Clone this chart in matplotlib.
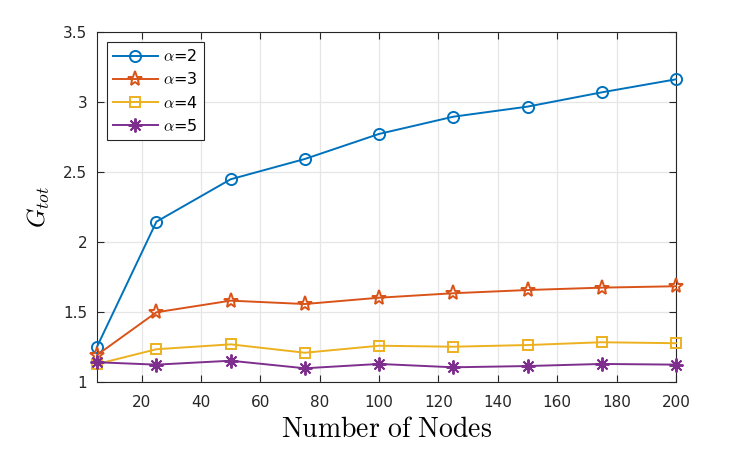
import numpy as np
import matplotlib.pyplot as plt

plt.rcParams['mathtext.fontset'] = 'cm'
plt.rcParams['font.family'] = ['DejaVu Sans']

nodes = [5, 25, 50, 75, 100, 125, 150, 175, 200]
g_a2 = [1.254, 2.147, 2.45, 2.595, 2.774, 2.897, 2.969, 3.071, 3.164]
g_a3 = [1.195, 1.50, 1.583, 1.559, 1.604, 1.636, 1.659, 1.676, 1.686]
g_a4 = [1.13, 1.236, 1.271, 1.211, 1.261, 1.254, 1.266, 1.286, 1.279]
g_a5 = [1.143, 1.126, 1.154, 1.10, 1.131, 1.107, 1.116, 1.131, 1.126]

fig = plt.figure(figsize=(7.47, 4.49), dpi=100)
ax = fig.add_axes([0.1299, 0.1486, 0.775, 0.7795])

lw = 1.4
ax.plot(nodes, g_a2, '-o', color='#0072BD', lw=lw, ms=8, mfc='none', mew=lw,
        label=r'$\alpha$=2', clip_on=False, zorder=3)
ax.plot(nodes, g_a3, '-*', color='#D95319', lw=lw, ms=11, mfc='none', mew=lw,
        label=r'$\alpha$=3', clip_on=False, zorder=3)
ax.plot(nodes, g_a4, '-s', color='#EDB120', lw=lw, ms=7.5, mfc='none', mew=lw,
        label=r'$\alpha$=4', clip_on=False, zorder=3)
ax.plot(nodes, g_a5, '-', color='#7E2F8E', lw=lw, marker=(8, 2, 0), ms=10, mew=lw,
        label=r'$\alpha$=5', clip_on=False, zorder=3)

ax.set_xlim(5, 200)
ax.set_ylim(1, 3.5)
ax.set_xticks(np.arange(20, 201, 20))
ax.set_yticks([1, 1.5, 2, 2.5, 3, 3.5])
ax.set_yticklabels(['1', '1.5', '2', '2.5', '3', '3.5'])
ax.tick_params(direction='in', length=5, labelsize=11, top=True, right=True,
               colors='#262626', labelcolor='#262626', width=0.8)
ax.tick_params(axis='x', pad=9)
ax.tick_params(axis='y', pad=7)
ax.grid(True, color='#e6e6e6', lw=0.9)
ax.set_axisbelow(True)
for s in ax.spines.values():
    s.set_color('#262626')
    s.set_linewidth(0.8)

ax.set_xlabel(r'$\mathrm{Number\ of\ Nodes}$', fontsize=20, labelpad=4)
ax.set_ylabel(r'$G_{tot}$', fontsize=18, labelpad=8)

leg = ax.legend(loc='upper left', fontsize=11.5, fancybox=False, framealpha=1,
                edgecolor='#262626', handlelength=2.8, handletextpad=0.3,
                borderaxespad=0.6, labelspacing=0.45, borderpad=0.4)
leg.get_frame().set_linewidth(0.8)

fig.savefig('out.png', dpi=100)
